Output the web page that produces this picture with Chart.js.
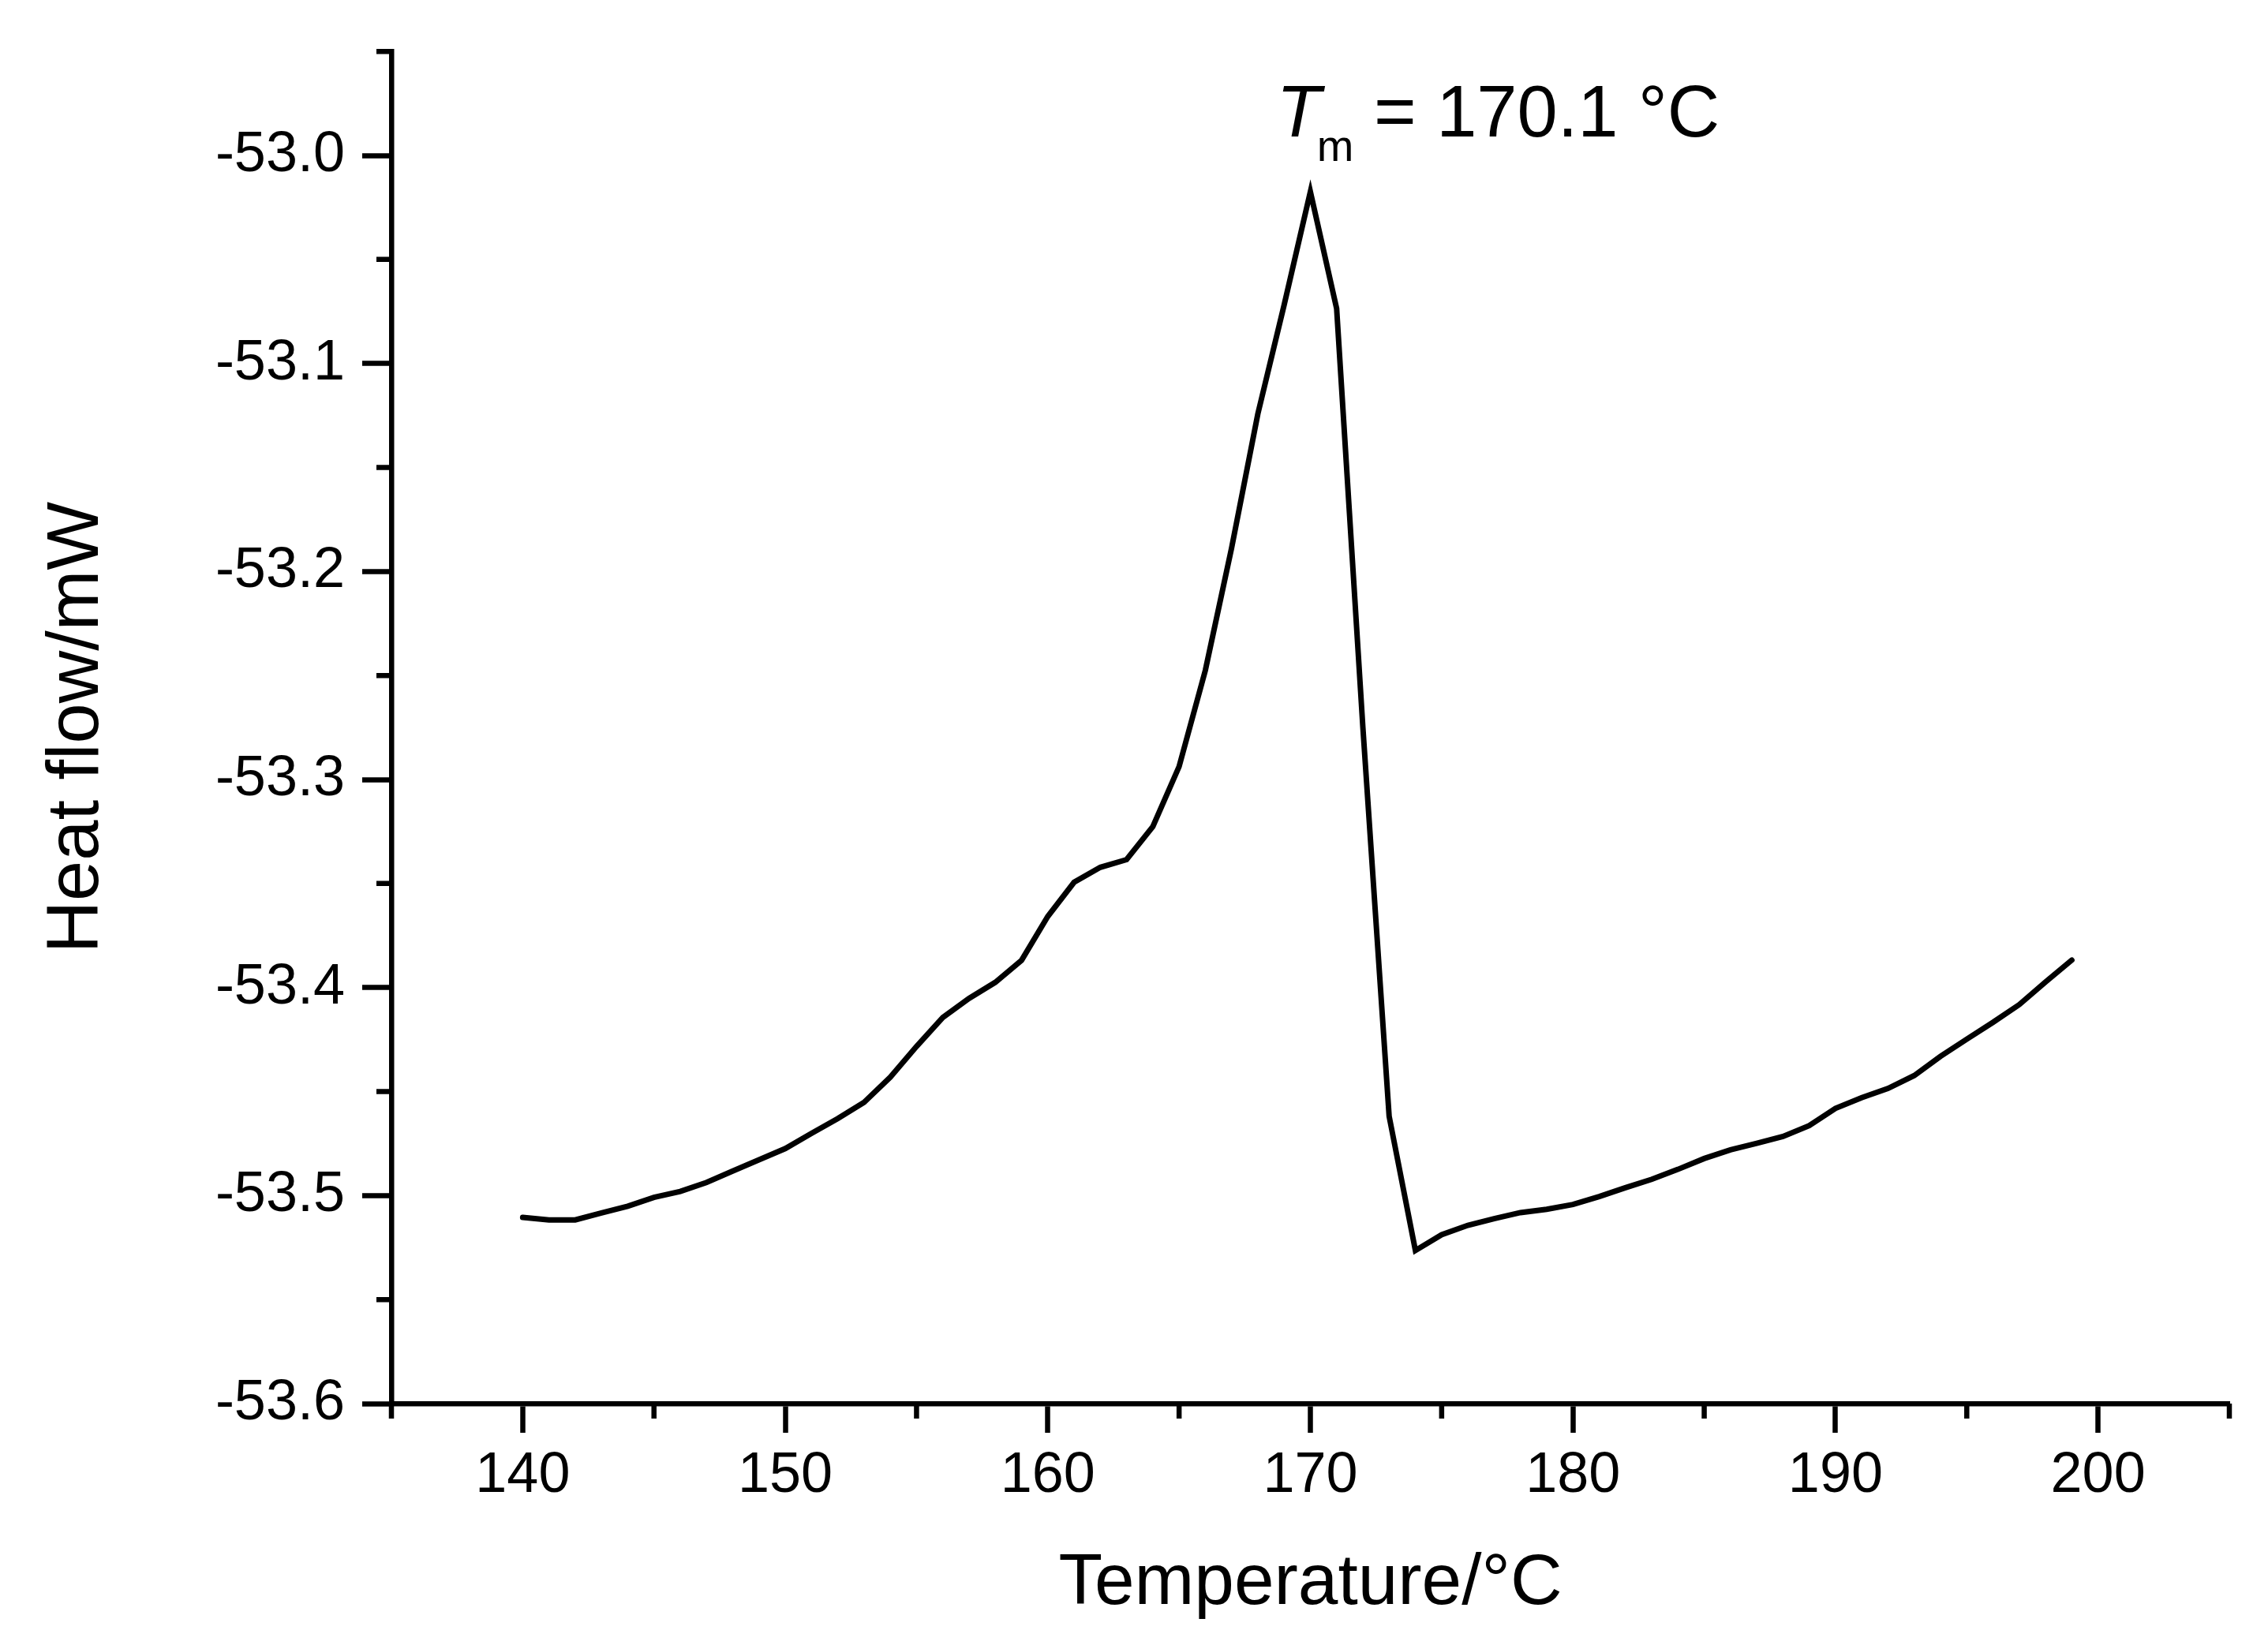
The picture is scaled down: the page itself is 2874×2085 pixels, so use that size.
<!DOCTYPE html>
<html>
<head>
<meta charset="utf-8">
<title>DSC curve</title>
<script src="https://cdn.jsdelivr.net/npm/chart.js@4.4.1/dist/chart.umd.min.js"></script>
<style>
  html, body { margin: 0; padding: 0; background: #fff; }
  #wrap { width: 2874px; height: 2085px; }
</style>
</head>
<body>
<div id="wrap"><canvas id="dscChart"></canvas></div>
<script>
// --- Data ---
const temperature = [
  140, 141, 142, 143, 144, 145, 146, 147, 148, 149,
  150, 151, 152, 153, 154, 155, 156, 157, 158, 159,
  160, 161, 162, 163, 164, 165, 166, 167, 168, 169,
  170, 171, 172, 173, 174, 175, 176, 177, 178, 179,
  180, 181, 182, 183, 184, 185, 186, 187, 188, 189,
  190, 191, 192, 193, 194, 195, 196, 197, 198, 199,
];
const heatFlow = [
  -53.5105, -53.5117, -53.5117, -53.5084, -53.5051, -53.5009, -53.4980, -53.4937, -53.4882, -53.4828,
  -53.4774, -53.4701, -53.4630, -53.4552, -53.4431, -53.4283, -53.4144, -53.4052, -53.3975, -53.3869,
  -53.3658, -53.3494, -53.3422, -53.3385, -53.3226, -53.2938, -53.2475, -53.1887, -53.1242, -53.0719,
  -53.0174, -53.0736, -53.2750, -53.4619, -53.5264, -53.5188, -53.5143, -53.5111, -53.5082, -53.5066,
  -53.5043, -53.5005, -53.4962, -53.4922, -53.4874, -53.4822, -53.4780, -53.4749, -53.4716, -53.4664,
  -53.4581, -53.4529, -53.4485, -53.4423, -53.4331, -53.4248, -53.4167, -53.4082, -53.3973, -53.3868,
];

const xMajorTicks = [140, 150, 160, 170, 180, 190, 200];
const xMinorTicks = [135, 145, 155, 165, 175, 185, 195, 205];
const yMajorTicks = [-53.6, -53.5, -53.4, -53.3, -53.2, -53.1, -53.0];
const yMinorTicks = [-53.55, -53.45, -53.35, -53.25, -53.15, -53.05, -52.95];

const peakLabel = " = 170.1 °C";

// --- Style ---
const FONT = '"Liberation Sans", Arial, sans-serif';
const INK = "#000";
const AXIS_W = 6.5;
const CURVE_W = 7;

Chart.defaults.font.family = FONT;
Chart.defaults.color = INK;

// short outward ticks between the labelled ones
const minorTicks = {
  id: "minorTicks",
  afterDraw(chart) {
    const { ctx, scales: { x, y } } = chart;
    ctx.save();
    ctx.strokeStyle = INK;
    ctx.lineWidth = AXIS_W;
    ctx.beginPath();
    for (const v of xMinorTicks) {
      const px = x.getPixelForValue(v);
      ctx.moveTo(px, x.top);
      ctx.lineTo(px, x.top + 19);
    }
    for (const v of yMinorTicks) {
      const py = y.getPixelForValue(v);
      ctx.moveTo(y.right - 19, py);
      ctx.lineTo(y.right, py);
    }
    ctx.stroke();
    ctx.restore();
  },
};

// "Tm = 170.1 °C" above the melting peak
const peakNote = {
  id: "peakNote",
  afterDatasetsDraw(chart) {
    const { ctx, scales: { x, y } } = chart;
    const i = heatFlow.indexOf(Math.max(...heatFlow));
    const px = x.getPixelForValue(temperature[i]);
    const py = y.getPixelForValue(heatFlow[i]);
    const base = py - 70;
    let cx = px - 43;

    ctx.save();
    ctx.fillStyle = INK;
    ctx.textAlign = "left";
    ctx.textBaseline = "alphabetic";
    ctx.font = `italic 92px ${FONT}`;
    ctx.fillText("T", cx, base);
    cx += ctx.measureText("T").width - 5;
    ctx.font = `56px ${FONT}`;
    ctx.fillText("m", cx, base + 31);
    cx += ctx.measureText("m").width;
    ctx.font = `92px ${FONT}`;
    ctx.fillText(peakLabel, cx, base);
    ctx.restore();
  },
};

const ctx = document.getElementById("dscChart").getContext("2d");
new Chart(ctx, {
  type: "line",
  data: {
    datasets: [
      {
        data: temperature.map((t, i) => ({ x: t, y: heatFlow[i] })),
        borderColor: INK,
        borderWidth: CURVE_W,
        borderCapStyle: "round",
        tension: 0,
        pointRadius: 0,
        fill: false,
      },
    ],
  },
  options: {
    responsive: true,
    maintainAspectRatio: false,
    devicePixelRatio: 1,
    animation: false,
    layout: { padding: { top: 57, right: 49, left: 0, bottom: 0 } },
    plugins: {
      legend: { display: false },
      tooltip: { enabled: false },
    },
    scales: {
      x: {
        type: "linear",
        position: "bottom",
        min: 135,
        max: 205,
        afterBuildTicks: (s) => {
          s.ticks = xMajorTicks.map((v) => ({ value: v }));
        },
        afterFit: (s) => {
          s.height = 306;
        },
        ticks: {
          font: { size: 72 },
          color: INK,
          padding: 12,
          maxRotation: 0,
          autoSkip: false,
          callback: (v) => String(v),
        },
        grid: {
          drawOnChartArea: false,
          drawTicks: true,
          tickLength: 37,
          tickWidth: AXIS_W,
          tickColor: INK,
        },
        border: { display: true, color: INK, width: AXIS_W },
        title: {
          display: true,
          text: "Temperature/°C",
          font: { size: 91 },
          color: INK,
          padding: { top: 0, bottom: 22 },
        },
      },
      y: {
        type: "linear",
        position: "left",
        min: -53.6,
        max: -52.95,
        afterBuildTicks: (s) => {
          s.ticks = yMajorTicks.map((v) => ({ value: v }));
        },
        afterFit: (s) => {
          s.width = 496;
        },
        ticks: {
          font: { size: 72 },
          color: INK,
          padding: 22,
          autoSkip: false,
          callback: (v) => Number(v).toFixed(1),
        },
        grid: {
          drawOnChartArea: false,
          drawTicks: true,
          tickLength: 37,
          tickWidth: AXIS_W,
          tickColor: INK,
        },
        border: { display: true, color: INK, width: AXIS_W },
        title: {
          display: true,
          text: "Heat flow/mW",
          font: { size: 92 },
          color: INK,
          padding: { top: 43, bottom: 0 },
        },
      },
    },
  },
  plugins: [minorTicks, peakNote],
});
</script>
</body>
</html>
